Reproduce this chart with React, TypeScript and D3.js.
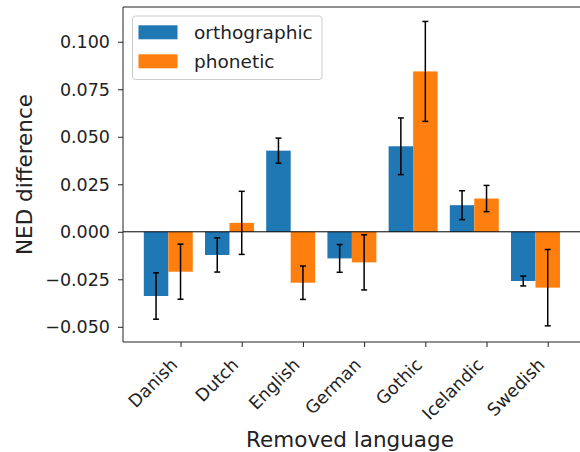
import React, { useEffect, useRef } from 'react';
import * as d3 from 'd3';

const languages = ['Danish', 'Dutch', 'English', 'German', 'Gothic', 'Icelandic', 'Swedish'];
const seriesNames = ['orthographic', 'phonetic'];
const orthographic = [-0.0338, -0.0122, 0.0427, -0.014, 0.045, 0.014, -0.0259];
const orthographicErr = [0.0122, 0.009, 0.0066, 0.0073, 0.0149, 0.0076, 0.0026];
const phonetic = [-0.021, 0.0047, -0.0268, -0.0161, 0.0844, 0.0175, -0.0294];
const phoneticErr = [0.0145, 0.0166, 0.0088, 0.0145, 0.0263, 0.0069, 0.0201];
const yTicks = [-0.05, -0.025, 0, 0.025, 0.05, 0.075, 0.1];
const colors = ['#1f77b4', '#ff7f0e'];

const width = 580;
const height = 452;
const margins = { top: 7, bottom: 110, left: 123 };
const font = '"DejaVu Sans", sans-serif';
const barWidth = 0.4;

export default function App() {
    const ref = useRef<SVGSVGElement>(null);

    useEffect(() => {
        const svg = d3.select(ref.current);
        svg.selectAll('*').remove();

        const plotBottom = height - margins.bottom;
        // x limits of the original plot run a bit past the image's right edge
        const x = d3.scaleLinear().domain([-0.94, 6.54]).range([margins.left, margins.left + 7.48 * 61.2]);
        const y = d3.scaleLinear().domain([-0.058, 0.1183]).range([plotBottom, margins.top]);

        const series = [
            { name: seriesNames[0], values: orthographic, err: orthographicErr, offset: -barWidth },
            { name: seriesNames[1], values: phonetic, err: phoneticErr, offset: 0 }
        ];

        // bars
        series.forEach((s, si) => {
            svg.append('g')
                .selectAll('rect')
                .data(s.values)
                .enter()
                .append('rect')
                .attr('x', (d, i) => x(i + s.offset - barWidth / 2))
                .attr('width', x(barWidth) - x(0))
                .attr('y', (d) => y(Math.max(0, d)))
                .attr('height', (d) => Math.abs(y(d) - y(0)))
                .attr('fill', colors[si]);
        });

        // zero line
        svg.append('line')
            .attr('x1', margins.left).attr('x2', width)
            .attr('y1', y(0)).attr('y2', y(0))
            .attr('stroke', '#000').attr('stroke-width', 1);

        // error bars
        series.forEach((s) => {
            const g = svg.append('g').attr('stroke', '#000').attr('stroke-width', 1.5);
            s.values.forEach((v, i) => {
                const cx = x(i + s.offset);
                const lo = y(v - s.err[i]);
                const hi = y(v + s.err[i]);
                g.append('line').attr('x1', cx).attr('x2', cx).attr('y1', lo).attr('y2', hi);
                g.append('line').attr('x1', cx - 3).attr('x2', cx + 3).attr('y1', lo).attr('y2', lo);
                g.append('line').attr('x1', cx - 3).attr('x2', cx + 3).attr('y1', hi).attr('y2', hi);
            });
        });

        // axes
        const yAxis = d3.axisLeft(y).tickValues(yTicks).tickFormat(d3.format('.3f')).tickSizeOuter(0).tickSize(5).tickPadding(8);
        const gy = svg.append('g').attr('transform', `translate(${margins.left},0)`).call(yAxis);
        gy.select('.domain').remove();
        gy.selectAll('text').attr('font-size', 17.5).attr('font-family', font).attr('fill', '#222').attr('dy', '0.35em');
        gy.selectAll('line').attr('stroke', '#222');

        const xAxis = d3.axisBottom(x).tickValues(d3.range(languages.length)).tickFormat(() => '').tickSize(5);
        const gx = svg.append('g').attr('transform', `translate(0,${plotBottom})`).call(xAxis);
        gx.select('.domain').remove();
        gx.selectAll('line').attr('stroke', '#222');

        // spines
        svg.append('line').attr('x1', margins.left).attr('x2', margins.left)
            .attr('y1', margins.top).attr('y2', plotBottom).attr('stroke', '#222').attr('stroke-width', 1);
        svg.append('line').attr('x1', margins.left).attr('x2', width)
            .attr('y1', margins.top).attr('y2', margins.top).attr('stroke', '#222').attr('stroke-width', 1);
        svg.append('line').attr('x1', margins.left).attr('x2', width)
            .attr('y1', plotBottom).attr('y2', plotBottom).attr('stroke', '#222').attr('stroke-width', 1);

        // rotated category labels
        svg.append('g')
            .selectAll('text')
            .data(languages)
            .enter()
            .append('text')
            .attr('transform', (d, i) => `translate(${x(i) - 2},${plotBottom + 24}) rotate(-45)`)
            .attr('text-anchor', 'end')
            .attr('font-size', 17.5)
            .attr('font-family', font)
            .attr('fill', '#222')
            .text((d) => d);

        // axis titles
        svg.append('text')
            .attr('x', 350).attr('y', 447)
            .attr('text-anchor', 'middle')
            .attr('font-size', 21.5).attr('font-family', font).attr('fill', '#222')
            .text('Removed language');
        svg.append('text')
            .attr('transform', `translate(32,${(margins.top + plotBottom) / 2}) rotate(-90)`)
            .attr('text-anchor', 'middle')
            .attr('font-size', 21.5).attr('font-family', font).attr('fill', '#222')
            .text('NED difference');

        // legend
        const legend = svg.append('g');
        legend.append('rect')
            .attr('x', 132.5).attr('y', 16).attr('width', 189.5).attr('height', 63.5)
            .attr('rx', 3).attr('fill', '#fff').attr('fill-opacity', 0.8)
            .attr('stroke', '#ccc').attr('stroke-width', 1);
        seriesNames.forEach((name, i) => {
            const cy = 32.3 + i * 29;
            legend.append('rect')
                .attr('x', 138.5).attr('y', cy - 7).attr('width', 39).attr('height', 14)
                .attr('fill', colors[i]);
            legend.append('text')
                .attr('x', 194).attr('y', cy).attr('dy', '0.35em')
                .attr('font-size', 18.5).attr('font-family', font).attr('fill', '#222')
                .text(name);
        });
    }, []);

    return (
        <svg ref={ref} width={width} height={height}
            style={{ position: 'absolute', left: 0, top: 0, background: '#fff' }} />
    );
}
